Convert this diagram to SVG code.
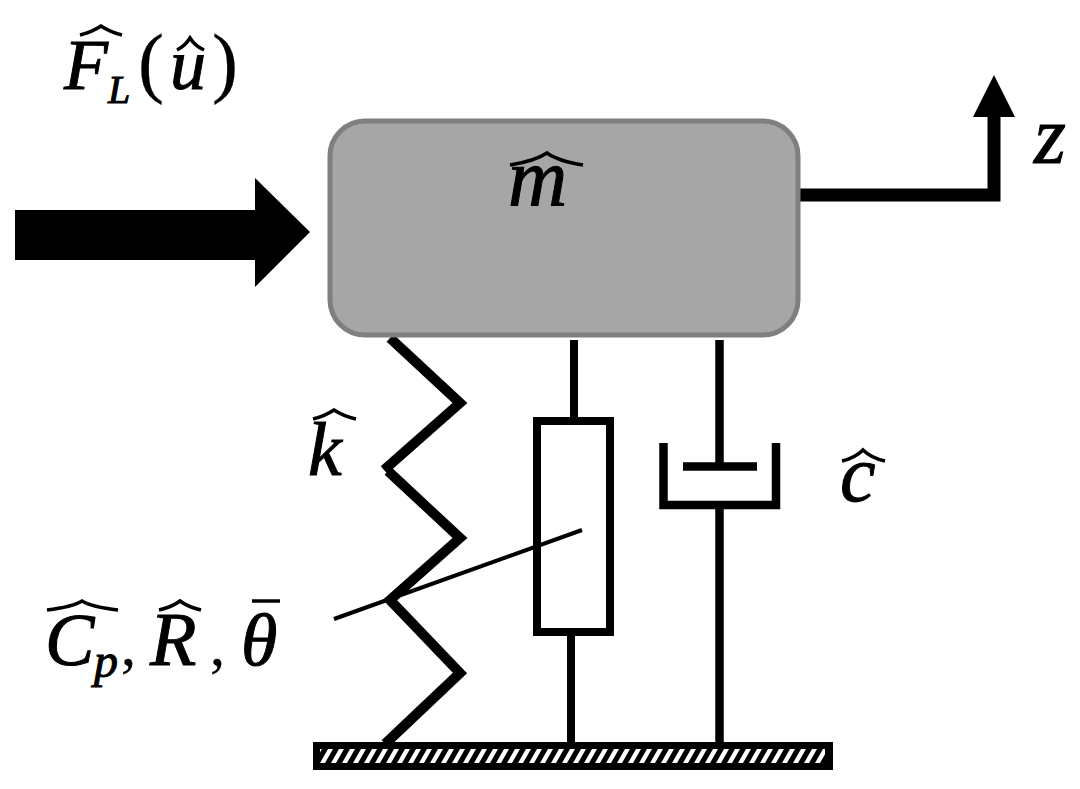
<svg xmlns="http://www.w3.org/2000/svg" width="1080" height="789" viewBox="0 0 1080 789">
<style>
.l{fill:none;stroke:#000;stroke-linejoin:miter}
.t{font-family:"Liberation Serif","DejaVu Serif",serif;font-style:italic;fill:#000;stroke:#000;stroke-width:1}
.u{font-family:"Liberation Serif","DejaVu Serif",serif;fill:#000;stroke:#000;stroke-width:.3}
.h{fill:none;stroke:#000;stroke-width:3.5}
</style>
<defs>
<pattern id="hatch" width="11" height="14" patternUnits="userSpaceOnUse" patternTransform="translate(320 749)">
<rect width="11" height="14" fill="#000"/>
<path d="M0 14L5 14L13 0L8 0Z M-11 14L-6 14L2 0L-3 0Z" fill="#fff"/>
</pattern>
</defs>
<rect width="1080" height="789" fill="#fff"/>
<g id="connectors">
<path id="force-arrow" d="M15 210H255V178L310 232L255 287V260H15Z" fill="#000"/>
<path id="z-arrow" class="l" stroke-width="13" d="M800 195H994V112"/>
<path d="M973 117L994 75L1015 117Z" fill="#000"/>
<path id="spring-top" class="l" stroke-width="10" d="M390 338L460 403L384 470"/>
<path id="spring-bottom" class="l" stroke-width="10" d="M388 471L460 538L390 600L460 673L385 744"/>
<path id="element-top" class="l" stroke-width="8" d="M574 340V421"/>
<path id="element-bottom" class="l" stroke-width="8" d="M571 632V742"/>
<path id="dashpot" class="l" stroke-width="8.5" d="M719.5 340V466.5M683 466.5H757M663.5 443V505H776V443M719.5 505V742"/>
<path id="pointer" class="l" stroke-width="4" d="M334 619L582 530"/>
</g>
<g id="mass"><rect x="330" y="121" width="468" height="214" rx="35" fill="#a6a6a6" stroke="#7f7f7f" stroke-width="5"/>
<text class="t" x="508" y="205" font-size="82">m</text>
<path class="h" d="M510 165Q535 161 547 153Q558 161 583 165"/></g>
<g id="element"><rect x="537" y="421" width="73" height="211" fill="none" stroke="#000" stroke-width="8"/></g>
<g id="ground"><rect x="313" y="742" width="520" height="28" fill="#000"/>
<rect x="320" y="749" width="505" height="14" fill="url(#hatch)"/></g>
<g id="label-force">
<text class="t" x="64" y="89" font-size="72">F</text>
<text class="t" x="108" y="103" font-size="40">L</text>
<text class="u" x="138" y="88" font-size="78">(</text>
<text class="t" x="170" y="89" font-size="72">u</text>
<text class="u" x="212" y="88" font-size="78">)</text>
<path class="h" d="M80 35Q92 32 101 26Q110 32 122 35M177 50Q185 46 190 38Q195 46 204 50"/>
</g>
<g id="label-z"><text class="t" x="1034" y="163" font-size="82">z</text></g>
<g id="label-k"><text class="t" x="308" y="475" font-size="76">k</text>
<path class="h" d="M313 419Q325 416 334 410Q343 416 356 419"/></g>
<g id="label-c"><text class="t" x="840" y="501" font-size="80">c</text>
<path class="h" d="M842 461Q855 458 863 450Q871 458 885 461"/></g>
<g id="label-params">
<text class="t" x="45" y="665" font-size="74">C</text>
<text class="t" x="94" y="677" font-size="48">p</text>
<text class="u" x="121" y="665" font-size="60">,</text>
<text class="t" x="150" y="665" font-size="76">R</text>
<text class="u" x="210" y="665" font-size="60">,</text>
<text class="t" x="241" y="665" font-size="74">θ</text>
<path class="h" d="M47 610Q72 607 82 601Q92 607 118 610M159 610Q172 607 180 601Q188 607 201 610M252 601H280"/>
</g>
</svg>
